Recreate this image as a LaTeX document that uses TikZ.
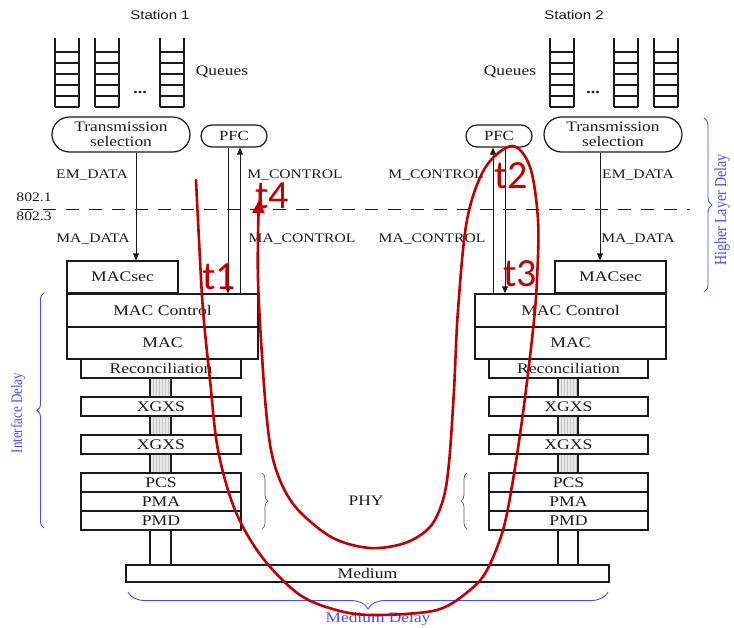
\documentclass[tikz,border=0pt]{standalone}
\usepackage{fontspec}
\setmainfont{Liberation Serif}[FakeStretch=1.2]
\newfontfamily\plainserif{Liberation Serif}
\newfontfamily\stsans{Liberation Sans}[FakeStretch=1.2]
\newfontfamily\redfont{Carlito}
\usetikzlibrary{shapes.misc,decorations.pathreplacing,arrows.meta,calc}
\definecolor{txt}{HTML}{1A1A1A}
\definecolor{dred}{HTML}{C00000}
\definecolor{dblue}{HTML}{4A4AFF}
\tikzset{
  box/.style={draw=txt, line width=1.3pt, inner sep=0pt, text=txt,
    font=\fontsize{14.7}{16}\selectfont},
  pill/.style={rounded rectangle, draw=txt, line width=1.2pt, inner sep=0pt,
    align=center, text=txt, font=\fontsize{14.5}{15.5}\selectfont},
  lbl/.style={inner sep=0pt, text=txt, font=\fontsize{13}{15}\selectfont},
  sig/.style={line width=0.8pt, draw=txt, -{Triangle[length=7pt,width=6pt]}},
  rail/.style={line width=1.3pt, draw=txt},
  tlabel/.style={inner sep=0pt, text=dred, font=\redfont\fontsize{40}{40}\selectfont},
  bluebrace/.style={draw=dblue, line width=0.9pt, decorate},
  phybrace/.style={draw=gray!70!black, line width=0.7pt, decorate,
    decoration={brace, amplitude=6pt}},
  bluetext/.style={inner sep=0pt, text=dblue},
}
\begin{document}
\begin{tikzpicture}[x=1pt, y=-1pt]
\useasboundingbox (0,0) rectangle (734,627);

% station titles
\node[inner sep=0pt, text=txt, font=\stsans\fontsize{12.5}{14}\selectfont] (st1) at (160,15) {Station 1};
\node[inner sep=0pt, text=txt, font=\stsans\fontsize{12.5}{14}\selectfont] (st2) at (574,15) {Station 2};

% queues (ladders)
\foreach \x in {55,95,160,550,614,654} {
  \draw[line width=1.5pt, txt] (\x,38) -- (\x,107) (\x+24,38) -- (\x+24,107);
  \foreach \y in {52,63,74,85,96,107}
    \draw[line width=1.1pt, txt] (\x,\y) -- (\x+24,\y);
}
\node[inner sep=0pt, text=txt, font=\bfseries\fontsize{15}{15}\selectfont] (dots1) at (140,92) {...};
\node[inner sep=0pt, text=txt, font=\bfseries\fontsize{15}{15}\selectfont] (dots2) at (593,92) {...};
\node[lbl, font=\fontsize{14.5}{15}\selectfont] (q1) at (222,72) {Queues};
\node[lbl, font=\fontsize{14.5}{15}\selectfont] (q2) at (510,72) {Queues};

% selection / PFC
\node[pill, minimum width=138pt, minimum height=35pt] (ts1) at (121,134.5) {Transmission\\selection};
\node[pill, minimum width=66pt, minimum height=22pt, font=\fontsize{14}{15}\selectfont] (pfc1) at (234,136) {PFC};
\node[pill, minimum width=66pt, minimum height=22pt, font=\fontsize{14}{15}\selectfont] (pfc2) at (499,136) {PFC};
\node[pill, minimum width=138pt, minimum height=35pt] (ts2) at (613,134.5) {Transmission\\selection};

% layer divider
\draw[line width=0.8pt, txt, dash pattern=on 13pt off 10pt] (20,209) -- (690,209);
\node[lbl] (l8021) at (34,197) {802.1};
\node[lbl] (l8023) at (34,216) {802.3};

% signal labels
\node[lbl] (emd1) at (92,175) {EM\_DATA};
\node[lbl] (mad1) at (93,239) {MA\_DATA};
\node[lbl] (mc1) at (295,175) {M\_CONTROL};
\node[lbl] (mac1l) at (302,239) {MA\_CONTROL};
\node[lbl] (mc2) at (436,175) {M\_CONTROL};
\node[lbl] (mac2l) at (432,239) {MA\_CONTROL};
\node[lbl] (emd2) at (638,175) {EM\_DATA};
\node[lbl] (mad2) at (638,239) {MA\_DATA};

% station 1 stack
\node[box, minimum width=111pt, minimum height=32pt] (macsec1) at (122.5,277) {MACsec};
\node[box, minimum width=191pt, minimum height=33pt] (macctl1) at (162.5,310.5) {MAC Control};
\node[box, minimum width=191pt, minimum height=32pt] (mac1) at (162.5,343) {MAC};
\node[box, minimum width=160pt, minimum height=19pt] (rec1) at (161,368.5) {Reconciliation};
\node[box, minimum width=160pt, minimum height=19pt] (xga1) at (161,406.5) {XGXS};
\node[box, minimum width=160pt, minimum height=19pt] (xgb1) at (161,444.5) {XGXS};
\node[box, minimum width=160pt, minimum height=19pt] (pcs1) at (161,482.5) {PCS};
\node[box, minimum width=160pt, minimum height=19pt] (pma1) at (161,501.5) {PMA};
\node[box, minimum width=160pt, minimum height=19pt] (pmd1) at (161,520.5) {PMD};

% station 2 stack
\node[box, minimum width=111pt, minimum height=32pt] (macsec2) at (610.5,277) {MACsec};
\node[box, minimum width=191pt, minimum height=33pt] (macctl2) at (570.5,310.5) {MAC Control};
\node[box, minimum width=191pt, minimum height=32pt] (mac2) at (570.5,343) {MAC};
\node[box, minimum width=159pt, minimum height=19pt] (rec2) at (568.5,368.5) {Reconciliation};
\node[box, minimum width=159pt, minimum height=19pt] (xga2) at (568.5,406.5) {XGXS};
\node[box, minimum width=159pt, minimum height=19pt] (xgb2) at (568.5,444.5) {XGXS};
\node[box, minimum width=159pt, minimum height=19pt] (pcs2) at (568.5,482.5) {PCS};
\node[box, minimum width=159pt, minimum height=19pt] (pma2) at (568.5,501.5) {PMA};
\node[box, minimum width=159pt, minimum height=19pt] (pmd2) at (568.5,520.5) {PMD};

% medium
\node[box, minimum width=483pt, minimum height=17pt] (medium) at (367.5,573.5) {Medium};

% x positions of the links
\coordinate (la) at (150,0);
\coordinate (ra) at (171,0);
\coordinate (lb) at (558,0);
\coordinate (rb) at (578,0);
\coordinate (em1x) at (136,0);
\coordinate (em2x) at (600,0);
\coordinate (d1x) at (228,0);
\coordinate (u1x) at (240,0);
\coordinate (u2x) at (493,0);
\coordinate (d2x) at (505,0);

% gray interface links (hatched)
\foreach \a/\b/\l/\r in {rec1/xga1/la/ra, xga1/xgb1/la/ra, xgb1/pcs1/la/ra,
                         rec2/xga2/lb/rb, xga2/xgb2/lb/rb, xgb2/pcs2/lb/rb} {
  \fill[gray!18] (\a.south -| \l) rectangle (\b.north -| \r);
  \foreach \k in {3,6,...,18}
    \draw[gray!45, line width=0.5pt] ($(\a.south -| \l)+(\k,0)$) -- ($(\b.north -| \l)+(\k,0)$);
  \draw[rail] (\a.south -| \l) -- (\b.north -| \l);
  \draw[rail] (\a.south -| \r) -- (\b.north -| \r);
}
% PMD to medium
\draw[rail] (pmd1.south -| la) -- (medium.north -| la);
\draw[rail] (pmd1.south -| ra) -- (medium.north -| ra);
\draw[rail] (pmd2.south -| lb) -- (medium.north -| lb);
\draw[rail] (pmd2.south -| rb) -- (medium.north -| rb);

% signal arrows
\draw[sig] (ts1.south -| em1x) -- (macsec1.north -| em1x);
\draw[sig] (pfc1.south -| d1x) -- (macctl1.north -| d1x);
\draw[sig] (macctl1.north -| u1x) -- (pfc1.south -| u1x);
\draw[sig] (macctl2.north -| u2x) -- (pfc2.south -| u2x);
\draw[sig] (pfc2.south -| d2x) -- (macctl2.north -| d2x);
\draw[sig] (ts2.south -| em2x) -- (macsec2.north -| em2x);

% PHY braces
\draw[phybrace] (262,473) -- (262,529);
\draw[phybrace] (467,529) -- (467,473);
\node[lbl, font=\fontsize{14.5}{15}\selectfont] (phy) at (366,501) {PHY};

% blue delay braces
\draw[bluebrace, decoration={brace, amplitude=8pt}] (704,118) -- (704,292);
\node[bluetext, rotate=90, font=\plainserif\fontsize{14}{15}\selectfont] (hld) at (722,210) {\scalebox{1}[1.2]{Higher Layer Delay}};
\draw[bluebrace, decoration={brace, amplitude=7pt}] (44,528) -- (44,293);
\node[bluetext, rotate=90, font=\plainserif\fontsize{13}{14}\selectfont] (ifd) at (18,413) {\scalebox{1}[1.2]{Interface Delay}};
\draw[bluebrace, decoration={brace, amplitude=17pt}] (608,592) -- (128,592);
\node[bluetext, font=\fontsize{14.5}{15}\selectfont] (md) at (378,619) {Medium Delay};

% red PFC round trip
\draw[dred, line width=2.6pt, line cap=round, -{Triangle[length=13pt,width=12pt]}]
  plot[smooth, tension=0.55] coordinates {
  (196,180) (199,240) (203,310) (210,380) (218,450) (235,510) (262,557)
  (300,595) (340,611) (377,615) (437,610) (470,590) (487,570) (503,530)
  (513,480) (523,413) (533,330) (537,280) (538,220) (530,167) (512,146)
  (485,168) (467,220) (458,310) (454,390) (449,463) (443,500) (430,527)
  (405,543) (370,548) (333,538) (300,512) (283,487) (272,455) (266,410)
  (261,340) (258,280) (258,235) (259,200)};

\node[tlabel] (t1) at (219,277) {t1};
\node[tlabel] (t4) at (272,196) {t4};
\node[tlabel] (t2) at (511,176) {t2};
\node[tlabel] (t3) at (520,274) {t3};
\end{tikzpicture}
\end{document}
